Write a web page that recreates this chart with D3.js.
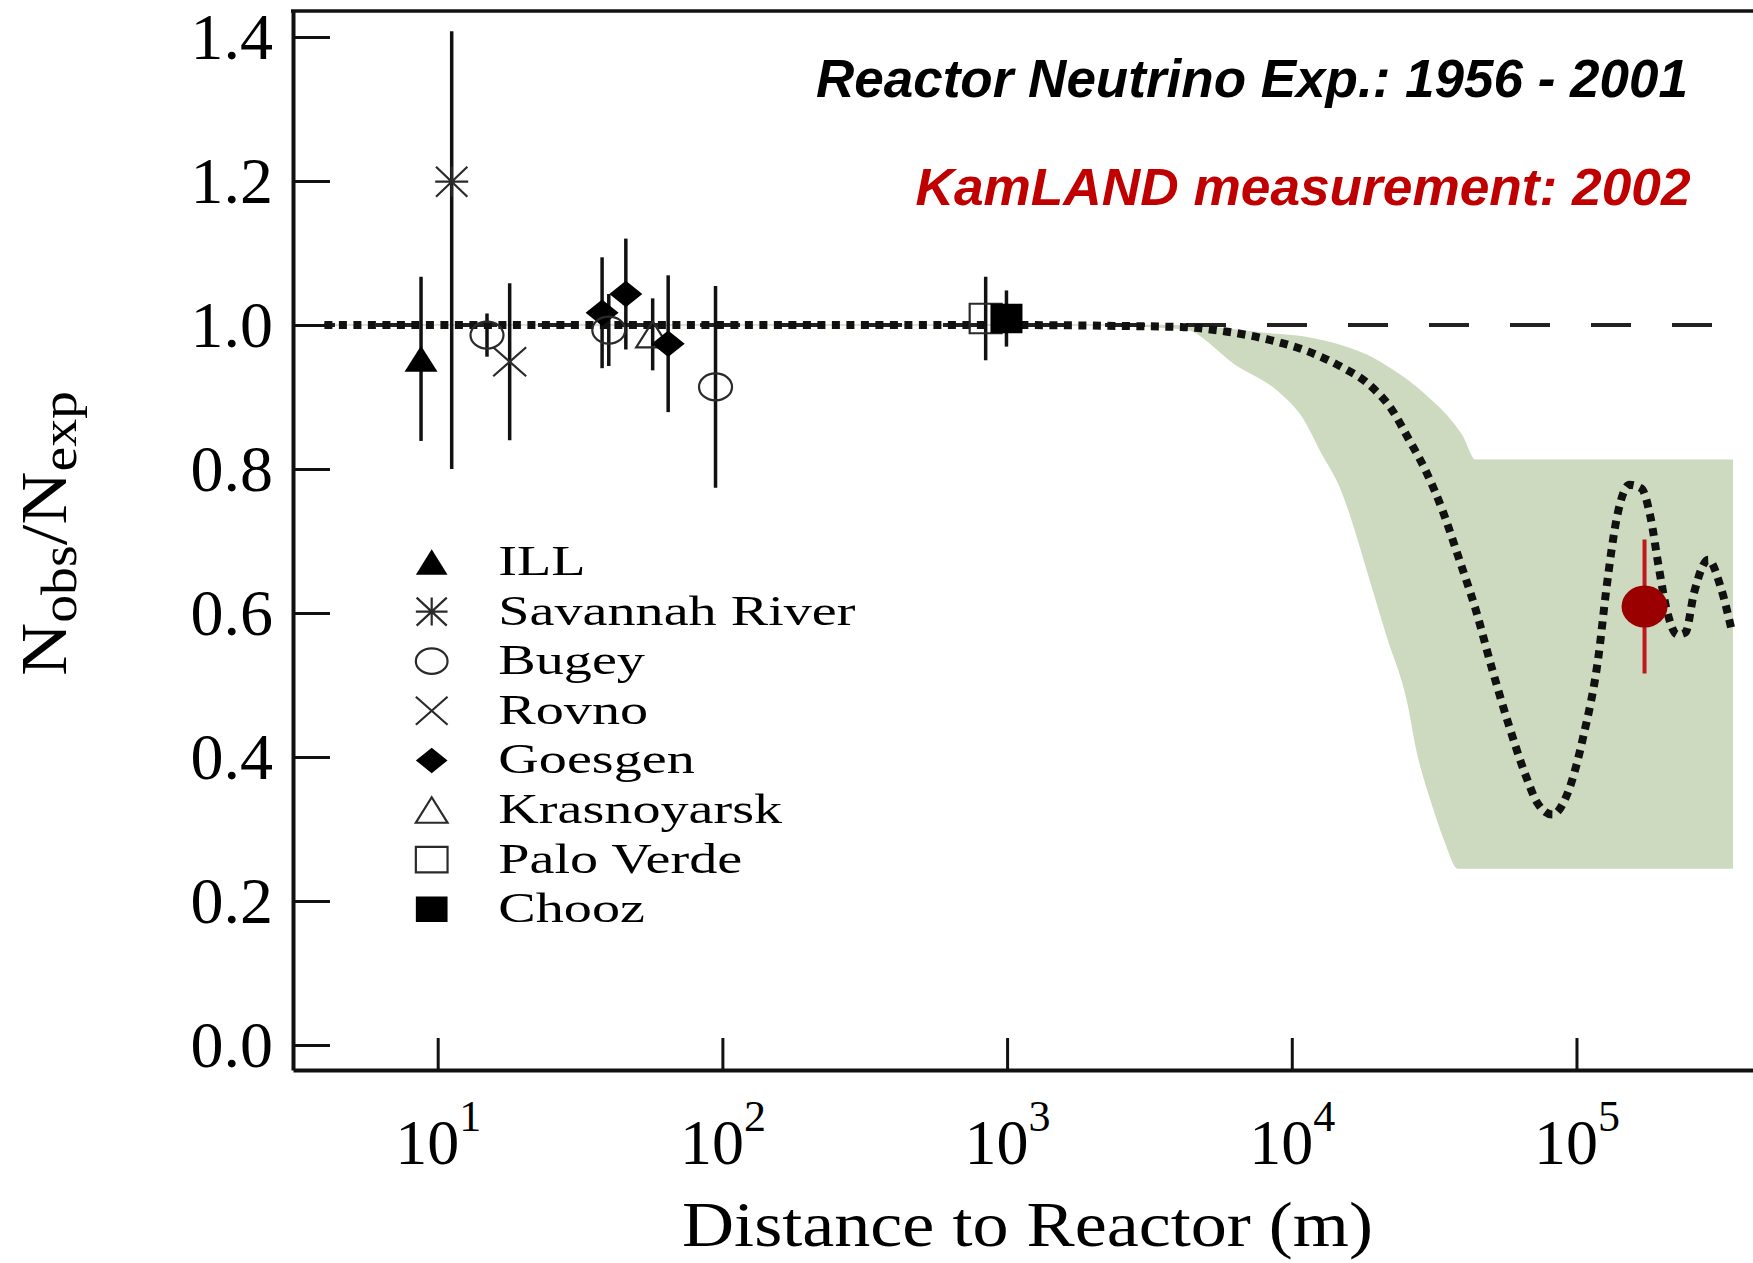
<!DOCTYPE html>
<html>
<head>
<meta charset="utf-8">
<script src="https://cdn.jsdelivr.net/npm/d3@7"></script>
<style>
  body { margin: 0; background: #fff; }
  svg { display: block; }
</style>
</head>
<body>
<svg id="chart" width="1753" height="1263"></svg>
<script>
// ---------------- DATA ----------------
const experiments = ["ILL", "Savannah River", "Bugey", "Rovno", "Goesgen", "Krasnoyarsk", "Palo Verde", "Chooz"];

// individual measurements (distance in m, Nobs/Nexp, asymmetric errors)
const ptExp    = ["ILL", "Savannah River", "Bugey", "Rovno", "Goesgen", "Bugey", "Goesgen", "Krasnoyarsk", "Goesgen", "Bugey", "Palo Verde", "Chooz"];
const ptDist   = [8.74, 11.2, 14.9, 17.9, 37.8, 39.9, 45.8, 56.9, 64.5, 94.6, 841, 995];
const ptRatio  = [0.953, 1.199, 0.986, 0.949, 1.017, 0.993, 1.043, 0.987, 0.974, 0.914, 1.009, 1.009];
const ptErrHi  = [0.114, 0.209, 0.030, 0.109, 0.077, 0.050, 0.077, 0.050, 0.095, 0.140, 0.058, 0.039];
const ptErrLo  = [0.114, 0.399, 0.030, 0.109, 0.077, 0.050, 0.077, 0.050, 0.095, 0.140, 0.058, 0.039];

// KamLAND 2002
const kamDist = 173400, kamRatio = 0.609, kamErr = 0.093;

// oscillation prediction (dotted curve)
const curveDist  = [4, 100, 1000, 2130, 4170, 5860, 8220, 11450, 15070, 18450, 22590, 25700, 29510, 33730, 38550, 44160, 50470, 57680, 66220, 72950, 82410, 92680, 105900, 119400, 127400, 138700, 153500, 169000, 182000, 194100, 207000, 226500, 241500, 258800, 290400, 322100, 349900];
const curveRatio = [1.0, 1.0, 1.0, 0.999, 0.997, 0.991, 0.980, 0.963, 0.941, 0.919, 0.881, 0.842, 0.798, 0.744, 0.677, 0.606, 0.523, 0.446, 0.375, 0.336, 0.320, 0.348, 0.430, 0.539, 0.634, 0.733, 0.778, 0.773, 0.733, 0.666, 0.606, 0.570, 0.573, 0.628, 0.674, 0.634, 0.578];

// allowed band (upper / lower edges)
const bandUpDist = [4, 2130, 4170, 8170, 11430, 14960, 18320, 22400, 25650, 29320, 34750, 39720, 43950, 352400];
const bandUp     = [1.0, 1.0, 0.999, 0.988, 0.982, 0.971, 0.958, 0.938, 0.922, 0.903, 0.875, 0.845, 0.812, 0.812];
const bandLoDist = [4, 2130, 4170, 6440, 9020, 11040, 12620, 14960, 16560, 17700, 21680, 25650, 27420, 31410, 34750, 38370, 352400];
const bandLo     = [1.0, 1.0, 0.995, 0.944, 0.908, 0.870, 0.826, 0.771, 0.721, 0.683, 0.567, 0.474, 0.413, 0.331, 0.281, 0.246, 0.246];

// ticks
const yTicks = [0.0, 0.2, 0.4, 0.6, 0.8, 1.0, 1.2, 1.4];
const xTicks = [10, 100, 1000, 10000, 100000];
const xTickExp = ["1", "2", "3", "4", "5"];

// texts
const titleBlack = "Reactor Neutrino Exp.: 1956 - 2001";
const titleRed = "KamLAND measurement: 2002";
const xTitle = "Distance to Reactor (m)";

// ---------------- STYLE ----------------
const serif = "'Liberation Serif', 'Times New Roman', Times, serif";
const sans = "'Liberation Sans', Arial, Helvetica, sans-serif";
const markerStyle = {
  "ILL": { shape: "tri", fill: true },
  "Savannah River": { shape: "asterisk", fill: false },
  "Bugey": { shape: "circle", fill: false },
  "Rovno": { shape: "x", fill: false },
  "Goesgen": { shape: "diamond", fill: true },
  "Krasnoyarsk": { shape: "tri", fill: false },
  "Palo Verde": { shape: "square", fill: false },
  "Chooz": { shape: "square", fill: true }
};

function markerPath(shape, w, h) {
  const a = w / 2, b = h / 2;
  switch (shape) {
    case "tri": return `M0,${-b}L${a},${b}L${-a},${b}Z`;
    case "circle": return `M${-a},0A${a},${b} 0 1,0 ${a},0A${a},${b} 0 1,0 ${-a},0Z`;
    case "diamond": return `M0,${-b}L${a},0L0,${b}L${-a},0Z`;
    case "square": return `M${-a},${-b}H${a}V${b}H${-a}Z`;
    case "x": return `M${-a},${-b}L${a},${b}M${a},${-b}L${-a},${b}`;
    case "asterisk": return `M${-a},0H${a}M${-a * 0.95},${-b}L${a * 0.95},${b}M${a * 0.95},${-b}L${-a * 0.95},${b}M0,${-b}V${b}`;
  }
}
function styleMarker(sel, st) {
  if (st.fill) sel.attr("fill", "#000").attr("stroke", "none");
  else sel.attr("fill", "none").attr("stroke", "#2a2a2a").attr("stroke-width", 2.2);
}

// ---------------- CHART ----------------
const W = 1753, H = 1263;
const svg = d3.select("#chart");
const x = d3.scaleLog().domain([3.103, 416900]).range([293, 1753]);
const y = d3.scaleLinear().domain([-0.0347, 1.4361]).range([1070, 11]);

const lineGen = d3.line().x(d => x(d[0])).y(d => y(d[1])).curve(d3.curveMonotoneX);

// band
const upPts = d3.zip(bandUpDist, bandUp);
const loPts = d3.zip(bandLoDist, bandLo).reverse();
const bandD = lineGen(upPts) + "L" + lineGen(loPts).slice(1) + "Z";
svg.append("path").attr("d", bandD)
  .attr("fill", "#cddac0").attr("stroke", "#cddac0").attr("stroke-width", 1.5);

// dashed reference line at 1
svg.append("line")
  .attr("x1", x(4)).attr("x2", W).attr("y1", y(1)).attr("y2", y(1))
  .attr("stroke", "#222").attr("stroke-width", 4)
  .attr("stroke-dasharray", "40,41").attr("stroke-dashoffset", 29.4);

// dotted oscillation curve
svg.append("path").attr("d", lineGen(d3.zip(curveDist, curveRatio)))
  .attr("fill", "none").attr("stroke", "#111").attr("stroke-width", 8)
  .attr("stroke-dasharray", "8,6.5");

// axes
const yAxis = svg.append("g").attr("transform", "translate(293,0)")
  .call(d3.axisLeft(y).tickValues(yTicks).tickSize(-37).tickSizeOuter(0).tickPadding(20).tickFormat(d3.format(".1f")));
yAxis.select(".domain").attr("stroke", "#111").attr("stroke-width", 4);
yAxis.selectAll(".tick line").attr("stroke", "#111").attr("stroke-width", 3);
yAxis.selectAll(".tick text").attr("font-family", serif).attr("font-size", 66).attr("fill", "#000");

const xAxis = svg.append("g").attr("transform", "translate(0,1070)")
  .call(d3.axisBottom(x).tickValues(xTicks).tickSize(-32).tickSizeOuter(0).tickFormat(() => ""));
xAxis.select(".domain").attr("stroke", "#111").attr("stroke-width", 4);
xAxis.selectAll(".tick line").attr("stroke", "#111").attr("stroke-width", 3);
xAxis.selectAll(".tick text").remove();
xAxis.selectAll(".tick").each(function (d, i) {
  const t = d3.select(this).append("text")
    .attr("y", 94).attr("text-anchor", "middle")
    .attr("font-family", serif).attr("font-size", 64).attr("fill", "#000");
  t.append("tspan").text("10");
  t.append("tspan").attr("dy", -33).attr("font-size", 44).text(xTickExp[i]);
});

// top frame
svg.append("line").attr("x1", 291).attr("x2", W).attr("y1", 11).attr("y2", 11)
  .attr("stroke", "#111").attr("stroke-width", 3.5);

// error bars and markers
const pts = ptExp.map((e, i) => ({ e, d: ptDist[i], r: ptRatio[i], hi: ptErrHi[i], lo: ptErrLo[i] }));
const msize = { tri: [33, 26], circle: [33, 27], diamond: [33, 26.5], square: [32, 29.5], x: [33, 29], asterisk: [33, 30] };

svg.append("g").selectAll("line").data(pts).join("line")
  .attr("x1", d => x(d.d)).attr("x2", d => x(d.d))
  .attr("y1", d => y(d.r + d.hi)).attr("y2", d => y(d.r - d.lo))
  .attr("stroke", "#111").attr("stroke-width", 3.5);

svg.append("g").selectAll("path").data(pts).join("path")
  .attr("transform", d => `translate(${x(d.d)},${y(d.r)})`)
  .attr("d", d => { const s = markerStyle[d.e].shape; return markerPath(s, msize[s][0], msize[s][1]); })
  .each(function (d) { styleMarker(d3.select(this), markerStyle[d.e]); });

// KamLAND
svg.append("line")
  .attr("x1", x(kamDist)).attr("x2", x(kamDist))
  .attr("y1", y(kamRatio + kamErr)).attr("y2", y(kamRatio - kamErr))
  .attr("stroke", "#c0181c").attr("stroke-width", 4);
svg.append("ellipse")
  .attr("cx", x(kamDist)).attr("cy", y(kamRatio)).attr("rx", 23).attr("ry", 21)
  .attr("fill", "#9b0000");

// legend
const leg = svg.append("g");
experiments.forEach((e, i) => {
  const cy = 562 + i * 49.6;
  const st = markerStyle[e];
  const p = leg.append("path").attr("transform", `translate(431.7,${cy})`)
    .attr("d", markerPath(st.shape, 31.7, st.shape === "x" || st.shape === "asterisk" ? 28 : 25.5));
  styleMarker(p, st);
  leg.append("text").attr("transform", `translate(498.3,${cy + 13}) scale(1.37,1.04)`)
    .attr("font-family", serif).attr("font-size", 41).attr("fill", "#000").text(e);
});

// y title
const yt = svg.append("text").attr("transform", "translate(66,533.5) rotate(-90)")
  .attr("text-anchor", "middle").attr("font-family", serif).attr("font-size", 66)
  .attr("textLength", 285).attr("lengthAdjust", "spacingAndGlyphs").attr("fill", "#000");
yt.append("tspan").text("N");
yt.append("tspan").attr("font-size", 50).attr("dy", 10).text("obs");
yt.append("tspan").attr("dy", -10).text("/N");
yt.append("tspan").attr("font-size", 50).attr("dy", 10).text("exp");

// x title
svg.append("text").attr("x", 1027.5).attr("y", 1246).attr("text-anchor", "middle")
  .attr("font-family", serif).attr("font-size", 64).attr("fill", "#000")
  .attr("textLength", 691).attr("lengthAdjust", "spacingAndGlyphs").text(xTitle);

// annotations
svg.append("text").attr("x", 1688).attr("y", 96.5).attr("text-anchor", "end")
  .attr("font-family", sans).attr("font-weight", "bold").attr("font-style", "italic")
  .attr("font-size", 53).attr("fill", "#000")
  .attr("textLength", 872).attr("lengthAdjust", "spacingAndGlyphs").text(titleBlack);
svg.append("text").attr("x", 1690.5).attr("y", 205).attr("text-anchor", "end")
  .attr("font-family", sans).attr("font-weight", "bold").attr("font-style", "italic")
  .attr("font-size", 51).attr("fill", "#c00000")
  .attr("textLength", 775).attr("lengthAdjust", "spacingAndGlyphs").text(titleRed);
</script>
</body>
</html>
